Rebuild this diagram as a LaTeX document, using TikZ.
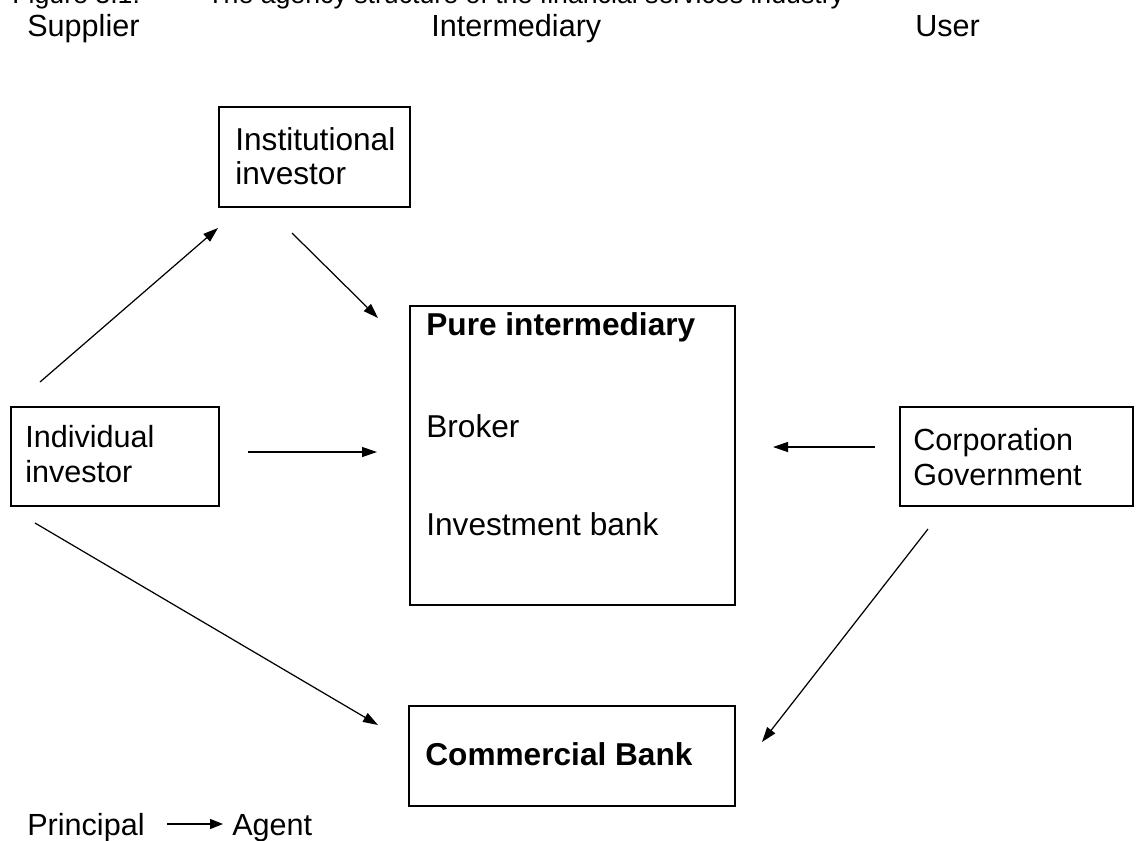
\documentclass[tikz,border=0pt]{standalone}
\usepackage{fontspec}
\setmainfont{Liberation Sans}
\usetikzlibrary{arrows.meta,fit}
\begin{document}
\begin{tikzpicture}[x=0.02cm,y=-0.02cm,
  box/.style={draw,line width=1.3pt,inner sep=0pt},
  lbl/.style={anchor=base west,inner sep=0pt,font=\fontsize{17.4}{20}\selectfont},
  mlbl/.style={anchor=base west,inner sep=0pt,font=\fontsize{18}{21}\selectfont},
  blbl/.style={anchor=base west,inner sep=0pt,font=\fontsize{18}{21}\selectfont\bfseries},
  captxt/.style={anchor=base west,inner sep=0pt,font=\fontsize{15.2}{18}\selectfont},
  arr/.style={line width=0.7pt,-{Triangle[length=0.3cm,width=0.2cm]}}]
\useasboundingbox (0,0) rectangle (1136,840);

% caption and column headings
\node[captxt] (figno) at (12,3) {Figure 3.1:};
\node[captxt] (title) at (207,3) {The agency structure of the financial services industry};
\node[lbl] (hsup) at (27,36) {Supplier};
\node[lbl] (hint) at (431,36) {Intermediary};
\node[lbl] (huse) at (915,36) {User};

% boxes
\node[box,fit={(219,107) (410,207)}] (inst) {};
\node[box,fit={(11,407) (219,506)}] (ind) {};
\node[box,fit={(410,306) (735,605)}] (pure) {};
\node[box,fit={(900,407) (1133,506)}] (corp) {};
\node[box,fit={(409,706) (735,806)}] (bank) {};

% box texts
\node[mlbl] (inst1) at (235,150) {Institutional};
\node[mlbl] (inst2) at (235,184) {investor};
\node[lbl] (ind1) at (25,447) {Individual};
\node[lbl] (ind2) at (25,482) {investor};
\node[lbl] (corp1) at (913,450) {Corporation};
\node[lbl] (corp2) at (913,485) {Government};
\node[blbl] (pure1) at (426,335) {Pure intermediary};
\node[mlbl] (pure2) at (426,437) {Broker};
\node[mlbl] (pure3) at (426,535) {Investment bank};
\node[blbl] (bank1) at (425,765) {Commercial Bank};

% connector end points
\coordinate (c1s) at (40,382);  \coordinate (c1e) at (218,228);
\coordinate (c2s) at (292,233); \coordinate (c2e) at (378,318);
\coordinate (c3s) at (248,452); \coordinate (c3e) at (377,452);
\coordinate (c4s) at (875,447); \coordinate (c4e) at (773,447);
\coordinate (c5s) at (35,523);  \coordinate (c5e) at (378,725);
\coordinate (c6s) at (928,529); \coordinate (c6e) at (762,742);

\draw[arr] (c1s) -- (c1e);
\draw[arr] (c2s) -- (c2e);
\draw[arr] (c3s) -- (c3e);
\draw[arr] (c4s) -- (c4e);
\draw[arr] (c5s) -- (c5e);
\draw[arr] (c6s) -- (c6e);

% legend
\node[lbl] (prin) at (27,835) {Principal};
\node[lbl] (agent) at (232,835) {Agent};
\coordinate (ls) at (167,824);
\coordinate (le) at (223,824);
\draw[line width=0.7pt,-{Triangle[length=0.26cm,width=0.2cm]}] (ls) -- (le);
\end{tikzpicture}
\end{document}
